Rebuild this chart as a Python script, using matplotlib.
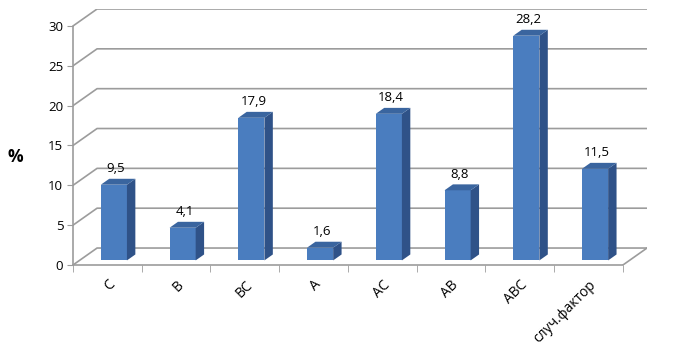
import numpy as np
import matplotlib.pyplot as plt
from matplotlib.patches import Polygon

plt.rcParams['font.family'] = ['Open Sans', 'DejaVu Sans']

# данные
categories = ['C', 'B', 'BC', 'A', 'AC', 'AB', 'ABC', 'случ.фактор']
values = [9.5, 4.1, 17.9, 1.6, 18.4, 8.8, 28.2, 11.5]
value_labels = ['9,5', '4,1', '17,9', '1,6', '18,4', '8,8', '28,2', '11,5']
yticks = [0, 5, 10, 15, 20, 25, 30]

# псевдо-3D: смещение глубины в единицах данных
dx, dy = 0.35, 2.13
f0, f1 = 0.27, 0.62   # передняя и задняя грань столбца
w = 0.38
grid_col = '#9c9c9c'
front_col = '#4a7dbf'
side_col = '#2f5288'
top_col = '#3a659f'

n = len(categories)
fig = plt.figure(figsize=(6.76, 3.5), dpi=100)
ax = fig.add_axes([73 / 676, 85 / 350, 574 / 676, 256 / 350])
ax.set_xlim(0, n + dx)
ax.set_ylim(0, yticks[-1] + dy)

# сетка: левая стенка + задняя стенка
for y in yticks:
    ax.plot([0, dx, n + dx], [y, y + dy, y + dy], color=grid_col, lw=1.2, zorder=1)
# правый край пола
ax.plot([n, n + dx], [0, dy], color=grid_col, lw=1.2, zorder=1)

# столбцы
x = np.arange(n) + 0.5
ax.bar(x + f0 * dx, values, width=w, bottom=f0 * dy, color=front_col, zorder=3)
d = f1 - f0
for xi, v, lab in zip(x, values, value_labels):
    xl = xi + f0 * dx - w / 2
    xr = xi + f0 * dx + w / 2
    yb = f0 * dy
    yt = v + f0 * dy
    side = [(xr, yb), (xr + d * dx, yb + d * dy), (xr + d * dx, yt + d * dy), (xr, yt)]
    top = [(xl, yt), (xr, yt), (xr + d * dx, yt + d * dy), (xl + d * dx, yt + d * dy)]
    ax.add_patch(Polygon(side, closed=True, facecolor=side_col, edgecolor='none', zorder=3))
    ax.add_patch(Polygon(top, closed=True, facecolor=top_col, edgecolor='none', zorder=3))
    ax.text(xi + f0 * dx + 0.03, yt + d * dy + 0.45, lab, ha='center', va='bottom', fontsize=9.5)

# оси
for s in ['top', 'right']:
    ax.spines[s].set_visible(False)
ax.spines['left'].set_bounds(0, yticks[-1])
ax.spines['bottom'].set_bounds(0, n)
ax.spines['left'].set_color(grid_col)
ax.spines['bottom'].set_color(grid_col)
ax.spines['left'].set_linewidth(1.2)
ax.spines['bottom'].set_linewidth(1.2)
ax.set_yticks(yticks)
ax.set_yticklabels([str(t) for t in yticks], fontsize=9.5)
ax.tick_params(axis='y', length=4, color=grid_col, pad=3)
ax.set_xticks(x)
ax.set_xticklabels(categories, fontsize=10, rotation=45, ha='right', rotation_mode='anchor')
ax.tick_params(axis='x', length=0, pad=9)
ax.set_xticks(np.arange(n + 1), minor=True)
ax.tick_params(axis='x', which='minor', length=5, color=grid_col)

fig.text(15 / 676, 1 - 157 / 350, '%', fontsize=12.5, fontweight='bold', ha='center', va='center')

fig.savefig('out.png', dpi=100)
